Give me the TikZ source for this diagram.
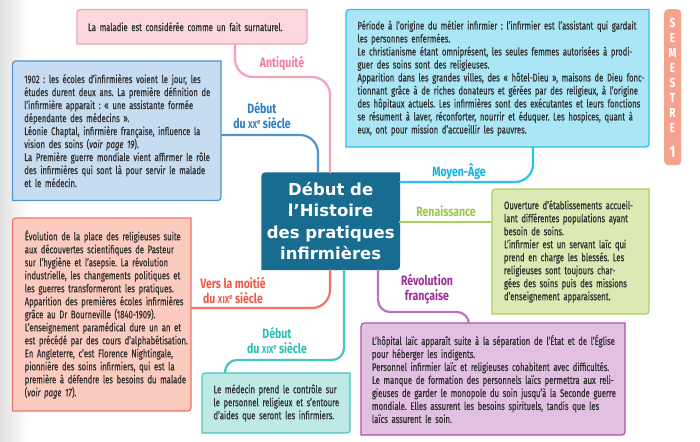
\documentclass[tikz,border=0pt]{standalone}
\usepackage{fontspec}
\setmainfont{Fira Sans}[FakeStretch=0.70, FakeBold=0.45]
\newfontfamily\labfont{Fira Sans}[FakeStretch=0.78]
\newfontfamily\ctrfont{DejaVu Sans}
\usetikzlibrary{calc}
\pgfdeclarelayer{bg}
\pgfsetlayers{bg,main}
\setlength{\lineskiplimit}{-20pt}
\frenchspacing
\definecolor{txt}{HTML}{2E2E2E}
\definecolor{pinkF}{HTML}{FCD7DE}\definecolor{pinkD}{HTML}{F4A3B4}\definecolor{pinkL}{HTML}{F47C9B}
\definecolor{blueF}{HTML}{C6DCF0}\definecolor{blueD}{HTML}{4F93CF}\definecolor{blueL}{HTML}{2E7EC6}
\definecolor{cyanF}{HTML}{AAE6F6}\definecolor{cyanD}{HTML}{2EC3EC}\definecolor{cyanL}{HTML}{14AEE0}
\definecolor{greenF}{HTML}{DCE9B4}\definecolor{greenD}{HTML}{AAD05E}\definecolor{greenL}{HTML}{9CC54C}
\definecolor{redF}{HTML}{FCCBC0}\definecolor{redD}{HTML}{EF7566}\definecolor{redL}{HTML}{EF5A48}
\definecolor{tealF}{HTML}{BFE9E5}\definecolor{tealD}{HTML}{44C7BF}\definecolor{tealL}{HTML}{2DBDB3}
\definecolor{purpF}{HTML}{E2C0E2}\definecolor{purpD}{HTML}{B14DB1}\definecolor{purpL}{HTML}{9E2F98}
\definecolor{ctrF}{HTML}{186C8F}
\definecolor{tabF}{HTML}{F5A38E}
\newcommand{\jline}[1]{\hbox to \hsize{#1}}
\newcommand{\eline}[1]{\hbox to \hsize{#1\hfil}}
\newcommand{\sct}[1]{{\fontsize{10}{10}\selectfont #1}\raisebox{0.55ex}{\fontsize{7.5}{7.5}\selectfont e}}
\newcommand{\boxshape}[3]{%
  \begin{pgfonlayer}{bg}
  \filldraw[fill=#2, draw=#3, line width=1.2pt]
    (#1.south west) -- ($(#1.north west)+(0,7)$) .. controls (#1.north west) .. ($(#1.north west)+(7,0)$)
    -- (#1.north east) -- ($(#1.south east)+(0,-7)$) .. controls (#1.south east) .. ($(#1.south east)+(-7,0)$)
    -- cycle;
  \end{pgfonlayer}}
\tikzset{
  txtbox/.style={anchor=north west, inner sep=0pt, outer sep=0pt, text=txt,
    font=\fontsize{11}{13}\selectfont},
  lab/.style={inner sep=0pt, align=center, font=\labfont\bfseries\fontsize{13.5}{15}\selectfont},
  conn/.style={line width=2.2pt},
}
\begin{document}
\begin{tikzpicture}[x=1pt,y=-1pt]
\useasboundingbox (0,0) rectangle (700,441);
\begin{pgfonlayer}{bg}
\fill[white] (0,0) rectangle (700,441);
\shade[left color=black!12, right color=white] (0,0) rectangle (28,441);
\end{pgfonlayer}

% boxes
\node[txtbox, minimum width=230, minimum height=34.5, text width=208] (pink) at (77,9.5)
  {\eline{La maladie est considérée comme un fait surnaturel.}};
\boxshape{pink}{pinkF}{pinkD}

\node[txtbox, minimum width=208.5, minimum height=139.5, text width=185] (blue) at (12.5,61)
  {\jline{1902 : les écoles d’infirmières voient le jour, les}
   \jline{études durent deux ans. La première définition de}
   \jline{l’infirmière apparait : « une assistante formée}
   \eline{dépendante des médecins ».}
   \jline{Léonie Chaptal, infirmière française, influence la}
   \eline{vision des soins (\textit{voir page 19}).}
   \jline{La Première guerre mondiale vient affirmer le rôle}
   \jline{des infirmières qui sont là pour servir le malade}
   \eline{et le médecin.}};
\boxshape{blue}{blueF}{blueD}

\node[txtbox, minimum width=303, minimum height=137.5, text width=280] (cyan) at (346,9.5)
  {\jline{Période à l’origine du métier infirmier : l’infirmier est l’assistant qui gardait}
   \eline{les personnes enfermées.}
   \jline{Le christianisme étant omniprésent, les seules femmes autorisées à prodi-}
   \eline{guer des soins sont des religieuses.}
   \jline{Apparition dans les grandes villes, des « hôtel-Dieu », maisons de Dieu fonc-}
   \jline{tionnant grâce à de riches donateurs et gérées par des religieux, à l’origine}
   \jline{des hôpitaux actuels. Les infirmières sont des exécutantes et leurs fonctions}
   \jline{se résument à laver, réconforter, nourrir et éduquer. Les hospices, quant à}
   \eline{eux, ont pour mission d’accueillir les pauvres.}};
\boxshape{cyan}{cyanF}{cyanD}

\node[txtbox, minimum width=157, minimum height=125, text width=133] (green) at (492,189)
  {\jline{Ouverture d’établissements accueil-}
   \jline{lant différentes populations ayant}
   \eline{besoin de soins.}
   \jline{L’infirmier est un servant laïc qui}
   \jline{prend en charge les blessés. Les}
   \jline{religieuses sont toujours char-}
   \jline{gées des soins puis des missions}
   \eline{d’enseignement apparaissent.}};
\boxshape{green}{greenF}{greenD}

\node[txtbox, minimum width=178.5, minimum height=193, text width=154] (red) at (12.5,218)
  {\jline{Évolution de la place des religieuses suite}
   \jline{aux découvertes scientifiques de Pasteur}
   \jline{sur l’hygiène et l’asepsie. La révolution}
   \jline{industrielle, les changements politiques et}
   \jline{les guerres transformeront les pratiques.}
   \jline{Apparition des premières écoles infirmières}
   \jline{grâce au Dr Bourneville (1840-1909).}
   \jline{L’enseignement paramédical dure un an et}
   \jline{est précédé par des cours d’alphabétisation.}
   \jline{En Angleterre, c’est Florence Nightingale,}
   \jline{pionnière des soins infirmiers, qui est la}
   \jline{première à défendre les besoins du malade}
   \eline{(\textit{voir page 17}).}};
\boxshape{red}{redF}{redD}

\node[txtbox, minimum width=148, minimum height=60, text width=125] (teal) at (202,373)
  {\jline{Le médecin prend le contrôle sur}
   \jline{le personnel religieux et s’entoure}
   \jline{d’aides que seront les infirmiers.}};
\boxshape{teal}{tealF}{tealD}

\node[txtbox, minimum width=264, minimum height=112, text width=242] (purp) at (361,323)
  {\jline{L’hôpital laïc apparaît suite à la séparation de l’État et de l’Église}
   \eline{pour héberger les indigents.}
   \jline{Personnel infirmier laïc et religieuses cohabitent avec difficultés.}
   \jline{Le manque de formation des personnels laïcs permettra aux reli-}
   \jline{gieuses de garder le monopole du soin jusqu’à la Seconde guerre}
   \jline{mondiale. Elles assurent les besoins spirituels, tandis que les}
   \eline{laïcs assurent le soin.}};
\boxshape{purp}{purpF}{purpD}

\node[anchor=north west, inner sep=0pt, minimum width=137, minimum height=96, align=center, text=white,
      font=\ctrfont\bfseries\fontsize{16.5}{21.5}\selectfont] (ctr) at (262,173)
  {Début de\\l’Histoire\\des pratiques\\infirmières};
\boxshape{ctr}{ctrF}{ctrF}

% semester tab
\node[anchor=north west, inner sep=0pt, minimum width=17, minimum height=156, fill=tabF, rounded corners=4pt] (sem) at (664,9) {};
\node[inner sep=0pt, align=center, text=white,
      font=\labfont\bfseries\fontsize{13}{15}\selectfont] (semtxt) at (672.5,75.5)
  {S\\E\\M\\E\\S\\T\\R\\E};
\node[inner sep=0pt, text=white, font=\labfont\bfseries\fontsize{16}{16}\selectfont] (semnum) at (672.5,152) {1};

% connectors
\coordinate (pA) at (235,77);
\coordinate (pB) at (330,77);
\draw[conn, pinkD, rounded corners=18pt] (pink.south -| pA) |- (pB) -- (ctr.north -| pB);
\coordinate (bA) at (318,135);
\draw[conn, blueD, rounded corners=18pt] (blue.east |- bA) -| (ctr.north -| bA);
\coordinate (cA) at (533,182);
\draw[conn, cyanD, rounded corners=18pt] (cyan.south -| cA) |- (ctr.east |- cA);
\coordinate (gA) at (0,222);
\draw[conn, greenD] (ctr.east |- gA) -- (green.west |- gA);
\coordinate (vA) at (378,312);
\coordinate (vB) at (469,312);
\draw[conn, purpD!80, rounded corners=12pt] (ctr.south -| vA) |- (vB) -- (purp.north -| vB);
\coordinate (rA) at (330,308);
\draw[conn, redD, rounded corners=18pt] (ctr.south -| rA) |- (red.east |- rA);
\coordinate (tA) at (344,360);
\coordinate (tB) at (225,360);
\draw[conn, tealD, rounded corners=12pt] (ctr.south -| tA) |- (tB) -- (teal.north -| tB);

% labels
\node[lab, text=pinkL] (lAnt) at (282,63) {Antiquité};
\node[lab, text=blueL] (lXX) at (262,115.5) {Début\\du \sct{XX} siècle};
\node[lab, text=cyanL] (lMA) at (459,172) {Moyen-Âge};
\node[lab, text=greenL] (lRen) at (446,211) {Renaissance};
\node[lab, text=purpL] (lRev) at (427,289.5) {Révolution\\française};
\node[lab, text=redL] (lVer) at (233,290) {Vers la moitié\\du \sct{XIX} siècle};
\node[lab, text=tealL] (lXIX) at (277,340.5) {Début\\du \sct{XIX} siècle};
\end{tikzpicture}
\end{document}
